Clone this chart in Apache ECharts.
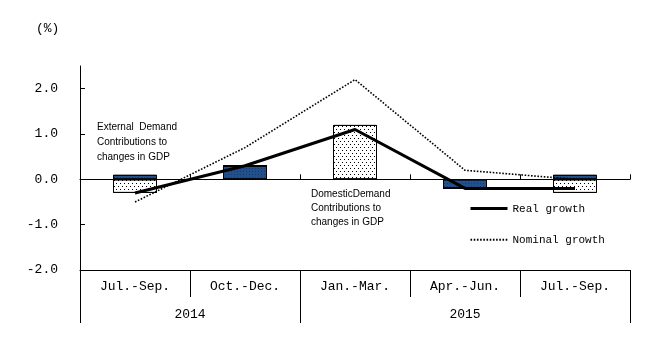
<!DOCTYPE html>
<html>
<head>
<meta charset="utf-8">
<script src="https://cdn.jsdelivr.net/npm/echarts@6/dist/echarts.min.js"></script>
<style>
html,body{margin:0;padding:0;background:#fff;}
#c{width:649px;height:340px;}
</style>
</head>
<body>
<div id="c"></div>
<script>
var quarters = ['Jul.-Sep.', 'Oct.-Dec.', 'Jan.-Mar.', 'Apr.-Jun.', 'Jul.-Sep.'];
var quarterYear = ['2014', '2014', '2015', '2015', '2015'];
var externalDemand = [0.1, 0.3, 0.0, -0.2, 0.1];
var domesticDemand = [-0.3, 0.0, 1.2, 0.0, -0.3];
var realGrowth = [-0.3, 0.3, 1.1, -0.2, -0.2];
var nominalGrowth = [-0.5, 0.7, 2.2, 0.2, 0.0];
var yTicks = [-2, -1, 0, 1, 2];
var yMin = -2, yMax = 2.5;

var MONO = '"Liberation Mono", "DejaVu Sans Mono", monospace';
var SANS = '"Liberation Sans", Arial, sans-serif';

var chart = echarts.init(document.getElementById('c'), null, {renderer: 'canvas'});

var option = {
  animation: false,
  backgroundColor: '#fff',
  grid: {left: 80, right: 19, top: 66, bottom: 70, containLabel: false, outerBoundsMode: 'none'},
  legend: {
    orient: 'vertical',
    left: 469,
    top: 201,
    padding: 0,
    itemWidth: 37,
    itemHeight: 14,
    itemGap: 17,
    itemStyle: {opacity: 0},
    data: [
      {name: 'Real growth', itemStyle: {opacity: 0}, lineStyle: {width: 3}},
      {name: 'Nominal growth', itemStyle: {opacity: 0}}
    ],
    textStyle: {fontFamily: MONO, fontSize: 11, color: '#000'}
  },
  xAxis: [
    {
      type: 'category',
      data: quarters,
      position: 'bottom',
      axisLine: {onZero: true, lineStyle: {color: '#000', width: 1}},
      axisTick: {show: true, inside: true, length: 5, lineStyle: {color: '#000'}},
      axisLabel: {show: false},
      splitLine: {show: false}
    },
    {
      type: 'category',
      data: quarters,
      position: 'bottom',
      axisLine: {onZero: false, lineStyle: {color: '#000', width: 1}},
      axisTick: {show: true, inside: false, length: 27, lineStyle: {color: '#000'}},
      axisLabel: {show: true, margin: 10, fontFamily: MONO, fontSize: 13, color: '#000', interval: 0},
      splitLine: {show: false}
    }
  ],
  yAxis: {
    type: 'value',
    min: yMin,
    max: yMax,
    interval: 1,
    axisLine: {show: true, lineStyle: {color: '#000', width: 1}},
    axisTick: {show: true, inside: true, length: 5, customValues: yTicks, lineStyle: {color: '#000'}},
    axisLabel: {
      customValues: yTicks,
      margin: 22,
      fontFamily: MONO,
      fontSize: 13,
      color: '#000',
      formatter: function (v) { return v.toFixed(1); }
    },
    splitLine: {show: false}
  },
  series: [
    {
      name: 'External Demand',
      type: 'bar',
      stack: 'contrib',
      barWidth: 44,
      data: externalDemand,
      itemStyle: {
        color: '#22508a',
        borderColor: '#000',
        borderWidth: 1,
        decal: {symbol: 'rect', symbolSize: 1, dashArrayX: [1, 2], dashArrayY: [1, 2], color: 'rgba(20,40,90,0.6)'}
      },
      z: 2
    },
    {
      name: 'Domestic Demand',
      type: 'bar',
      stack: 'contrib',
      barWidth: 44,
      data: domesticDemand,
      itemStyle: {
        color: '#fff',
        borderColor: '#000',
        borderWidth: 1,
        decal: {symbol: 'rect', symbolSize: 1, dashArrayX: [[1, 3], [0, 2, 1, 1]], dashArrayY: [1, 2], color: '#000'}
      },
      z: 2
    },
    {
      name: 'Real growth',
      type: 'line',
      data: realGrowth,
      symbol: 'none',
      lineStyle: {color: '#000', width: 3, type: 'solid'},
      itemStyle: {color: '#000'},
      z: 5
    },
    {
      name: 'Nominal growth',
      type: 'line',
      data: nominalGrowth,
      symbol: 'none',
      lineStyle: {color: '#000', width: 1.6, type: [1.6, 1.6]},
      itemStyle: {color: '#000'},
      z: 4
    }
  ],
  graphic: [
    {
      type: 'text', left: 36, top: 22,
      style: {text: '(%)', fontFamily: MONO, fontSize: 13, fill: '#000'}
    },
    {
      type: 'text', left: 97, top: 120,
      style: {text: 'External  Demand\nContributions to\nchanges in GDP', fontFamily: SANS, fontSize: 10, lineHeight: 15, fill: '#000'}
    },
    {
      type: 'text', left: 311, top: 187,
      style: {text: 'DomesticDemand\nContributions to\nchanges in GDP', fontFamily: SANS, fontSize: 10, lineHeight: 14, fill: '#000'}
    }
  ]
};

option.legend.top = 203;
option.legend.itemGap = 20;

chart.setOption(option);

// Year row: group consecutive quarters by year, positioned through the axis scale
(function () {
  var c0 = chart.convertToPixel({xAxisIndex: 1}, 0);
  var c1 = chart.convertToPixel({xAxisIndex: 1}, 1);
  var band = c1 - c0;
  var yLine = chart.convertToPixel({yAxisIndex: 0}, yMin);
  var els = [];
  var start = 0;
  for (var i = 1; i <= quarterYear.length; i++) {
    if (i === quarterYear.length || quarterYear[i] !== quarterYear[start]) {
      var xl = chart.convertToPixel({xAxisIndex: 1}, start) - band / 2;
      var xr = chart.convertToPixel({xAxisIndex: 1}, i - 1) + band / 2;
      els.push({
        type: 'text',
        x: (xl + xr) / 2, y: yLine + 45,
        style: {text: quarterYear[start], fontFamily: MONO, fontSize: 13, fill: '#000', align: 'center', verticalAlign: 'middle'}
      });
      if (start === 0) {
        els.push({type: 'line', shape: {x1: Math.round(xl) + 0.5, y1: yLine, x2: Math.round(xl) + 0.5, y2: yLine + 53}, style: {stroke: '#000', lineWidth: 1}});
      }
      els.push({type: 'line', shape: {x1: Math.round(xr) + 0.5, y1: yLine, x2: Math.round(xr) + 0.5, y2: yLine + 53}, style: {stroke: '#000', lineWidth: 1}});
      start = i;
    }
  }
  chart.setOption({graphic: option.graphic.concat(els)});
})();
</script>
</body>
</html>
